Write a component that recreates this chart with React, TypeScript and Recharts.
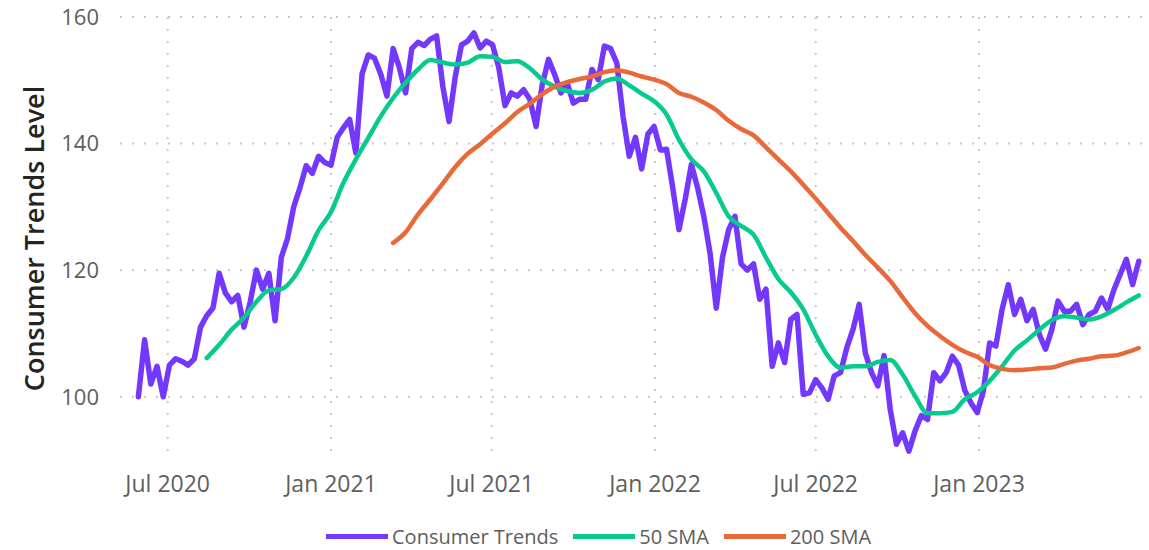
import React from 'react'
import { LineChart, Line, XAxis, YAxis, CartesianGrid, Legend } from 'recharts'

const DAY = 86400000

// weekly readings (Fridays), first one 2020-05-29
const trendStart = Date.UTC(2020, 4, 29)
const trendValues = [
  100, 109, 102, 104.8, 100, 105, 106, 105.6, 105, 106,
  111, 112.8, 114, 119.5, 116.4, 115, 116, 111, 115, 120,
  117, 119.5, 112, 122, 125, 130, 133, 136.5, 135.3, 138,
  137, 136.6, 141, 142.5, 143.8, 138.5, 151, 154, 153.5, 151,
  147.5, 155, 152, 148, 155, 156, 155.5, 156.5, 157, 149,
  143.5, 150.6, 155.6, 156.2, 157.5, 155.1, 156.2, 155.6, 152, 146,
  148, 147.5, 148.5, 147, 142.7, 149.3, 153.3, 150.9, 148, 149.6,
  146.4, 147, 147, 151.7, 150.1, 155.4, 155, 152.7, 144.3, 138,
  141, 136, 141.5, 142.7, 139, 139.1, 133, 126.4, 131.2, 136.7,
  133, 128.5, 122.7, 114, 122, 126.4, 128.5, 121, 120, 121,
  115.4, 117, 104.8, 108.5, 105.4, 112.2, 113, 100.4, 100.6, 102.7,
  101.4, 99.6, 103.3, 103.8, 107.7, 110.6, 114.6, 106.9, 103.8, 101.7,
  106.5, 98, 92.5, 94.3, 91.4, 94.6, 97, 96.4, 103.8, 102.5,
  103.8, 106.4, 105, 101, 99, 97.5, 101, 108.5, 108, 113.8,
  117.7, 113, 115.4, 112, 113.8, 109.8, 107.5, 110.6, 115.1, 113.5,
  113.5, 114.6, 111.4, 113, 113.5, 115.6, 113.8, 116.9, 119.3, 121.7,
  117.7, 121.4,
]

// 50 SMA, every second week from 2020-08-14
const sma50Start = Date.UTC(2020, 7, 14)
const sma50Values = [
  106.1, 108.2, 110.6, 112.5, 115, 116.8, 117, 118.8, 122.2, 126.3,
  129.2, 133.8, 137.5, 140.9, 144.3, 147.2, 149.6, 151.7, 153.2, 152.8,
  152.5, 152.8, 153.8, 153.7, 152.9, 153, 151.9, 150.1, 149, 148.3,
  148, 148.5, 149.8, 150.3, 149.2, 147.9, 146.7, 144.6, 140.6, 137.5,
  135.6, 132.2, 128.5, 127, 125.6, 122, 118.6, 116.5, 113.8, 109.8,
  106.4, 104.6, 104.8, 104.8, 105.5, 105.8, 103.5, 100.1, 97.4, 97.4,
  97.6, 99.6, 100.7, 102.5, 104.8, 107.3, 108.9, 110.6, 112.1, 112.7,
  112.5, 112.2, 112.7, 113.7, 114.9, 116,
]

// 200 SMA, every second week from 2021-03-12
const sma200Start = Date.UTC(2021, 2, 12)
const sma200Values = [
  124.3, 126, 128.8, 131.2, 133.7, 136.3, 138.4, 139.9, 141.6, 143.2,
  145, 146.3, 147.8, 149, 149.7, 150.2, 150.6, 151.3, 151.6, 151.2,
  150.6, 150.1, 149.4, 148, 147.4, 146.5, 145.3, 143.6, 142.3, 141.3,
  139.4, 137.5, 135.6, 133.5, 131.3, 129, 126.7, 124.6, 122.4, 120.4,
  118.3, 115.7, 113.2, 111.2, 109.6, 108.2, 107.1, 106.3, 105, 104.4,
  104.2, 104.3, 104.5, 104.6, 105.2, 105.7, 106, 106.4, 106.5, 107,
  107.7,
]

const xTicks = [
  Date.UTC(2020, 6, 1),
  Date.UTC(2021, 0, 1),
  Date.UTC(2021, 6, 1),
  Date.UTC(2022, 0, 1),
  Date.UTC(2022, 6, 1),
  Date.UTC(2023, 0, 1),
]
const yTicks = [100, 120, 140, 160]
const monthNames = ['Jan', 'Feb', 'Mar', 'Apr', 'May', 'Jun', 'Jul', 'Aug', 'Sep', 'Oct', 'Nov', 'Dec']

const toRows = (start: number, stepDays: number, values: number[]) =>
  values.map((v, i) => ({ t: start + i * stepDays * DAY, v }))

const trendData = toRows(trendStart, 7, trendValues)
const sma50Data = toRows(sma50Start, 14, sma50Values)
const sma200Data = toRows(sma200Start, 14, sma200Values)

const series = [
  { name: 'Consumer Trends', color: '#7438FC', width: 5.5, type: 'linear', data: trendData },
  { name: '50 SMA', color: '#08C98E', width: 4.5, type: 'monotone', data: sma50Data },
  { name: '200 SMA', color: '#E8693A', width: 4.5, type: 'monotone', data: sma200Data },
]

const font = "'Segoe UI', 'Open Sans', sans-serif"
const textGray = '#605E5C'

const xMin = Date.UTC(2020, 6, 1) - 53.7 * DAY
const xMax = Date.UTC(2020, 6, 1) + 1101 * DAY

const formatTick = (t: number) => {
  const d = new Date(t)
  return `${monthNames[d.getUTCMonth()]} ${d.getUTCFullYear()}`
}

const renderLegend = () => (
  <div style={{ display: 'flex', alignItems: 'center', fontFamily: font, fontSize: 20, color: textGray }}>
    {series.map((s) => (
      <div key={s.name} style={{ display: 'flex', alignItems: 'center', marginRight: 15 }}>
        <span style={{ display: 'inline-block', width: 62, height: 5, background: s.color, marginRight: 4 }} />
        <span>{s.name}</span>
      </div>
    ))}
  </div>
)

export default function App() {
  return (
    <div style={{ position: 'absolute', left: 0, top: 0, width: 1149, height: 550, background: '#fff' }}>
      <LineChart width={1149} height={550} margin={{ top: 17, right: 4, bottom: 60, left: 0 }}>
        <CartesianGrid
          stroke="#c8c8c8"
          strokeWidth={2}
          strokeDasharray="2 10"
          horizontalValues={yTicks}
          verticalValues={xTicks}
        />
        <XAxis
          type="number"
          dataKey="t"
          domain={[xMin, xMax]}
          ticks={xTicks}
          interval={0}
          allowDataOverflow
          tickFormatter={formatTick}
          axisLine={false}
          tickLine={false}
          tickSize={6}
          tickMargin={10}
          height={30}
          tick={{ fill: textGray, fontSize: 23, fontFamily: font }}
        />
        <YAxis
          type="number"
          domain={[90, 160]}
          ticks={yTicks}
          width={120}
          axisLine={false}
          tickLine={false}
          tickSize={6}
          tickMargin={15}
          tick={{ fill: textGray, fontSize: 22, fontFamily: font }}
          label={{
            value: 'Consumer Trends Level',
            angle: -90,
            position: 'insideLeft',
            offset: 34,
            style: { textAnchor: 'middle', fill: '#252423', fontSize: 27, fontWeight: 600, fontFamily: font },
          }}
        />
        {series.map((s) => (
          <Line
            key={s.name}
            data={s.data}
            dataKey="v"
            name={s.name}
            type={s.type as 'linear' | 'monotone'}
            stroke={s.color}
            strokeWidth={s.width}
            strokeLinejoin="round"
            strokeLinecap="round"
            dot={false}
            activeDot={false}
            isAnimationActive={false}
          />
        ))}
        <Legend
          layout="horizontal"
          verticalAlign="middle"
          align="center"
          wrapperStyle={{ left: 326, top: 523, width: 620 }}
          content={renderLegend}
        />
      </LineChart>
    </div>
  )
}
